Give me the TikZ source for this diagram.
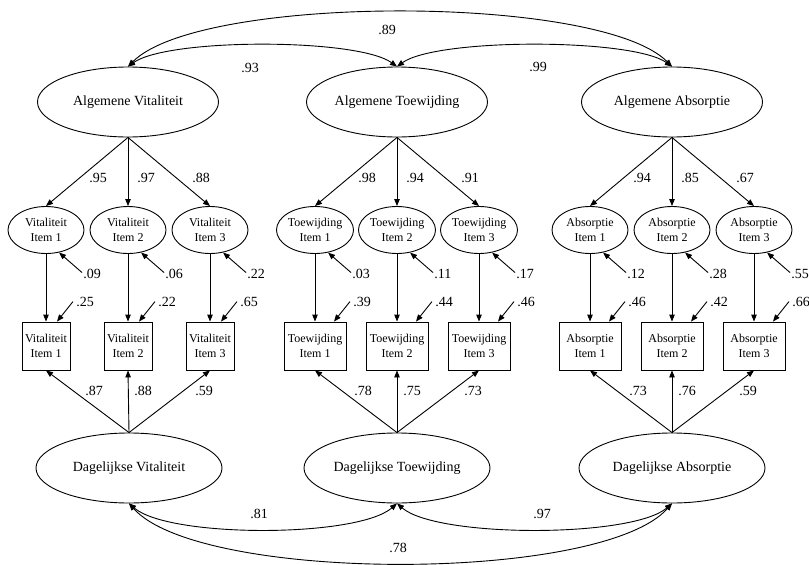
\documentclass[tikz,border=0pt]{standalone}
\usepackage{fontspec}
\setmainfont{Liberation Serif}
\usetikzlibrary{shapes.geometric,arrows.meta,calc}
\begin{document}
\begin{tikzpicture}[x=1pt,y=-1pt,line width=0.9pt,
  >={Triangle[length=7pt,width=5.5pt]},
  lat/.style={ellipse,draw,minimum width=181pt,minimum height=70pt,inner sep=0pt,font=\fontsize{14}{16}\selectfont},
  dlat/.style={lat,minimum width=186pt},
  itm/.style={ellipse,draw,minimum width=76pt,minimum height=47pt,inner sep=0pt,align=center,font=\fontsize{12}{15}\selectfont},
  obs/.style={rectangle,draw,minimum height=48pt,inner sep=0pt,align=center,font=\fontsize{12}{15}\selectfont},
  num/.style={inner sep=0pt,font=\fontsize{14}{16}\selectfont},
  arr/.style={->},
  dbl/.style={<->}]
\useasboundingbox (0,0) rectangle (809,565);
\foreach \g/\word/\cx/\dcx/\bw/\off/\la/\lb/\lc/\ea/\eb/\ec/\ba/\bb/\bc/\da/\db/\dc in {
 V/Vitaliteit/128/129/48/11/.95/.97/.88/.09/.06/.22/.25/.22/.65/.87/.88/.59,
 T/Toewijding/397/397/62/19/.98/.94/.91/.03/.11/.17/.39/.44/.46/.78/.75/.73,
 A/Absorptie/672/672/62/19/.94/.85/.67/.12/.28/.55/.46/.42/.66/.73/.76/.59}
{
  \node[lat] (G\g) at (\cx,102) {Algemene \word};
  \node[dlat] (D\g) at (\dcx,468) {Dagelijkse \word};
  \foreach \i/\dx/\tx/\bx/\vl/\ve/\vb/\vd in {1/-82/-30/-34/\la/\ea/\ba/\da, 2/0/18/15/\lb/\eb/\bb/\db, 3/82/73/76/\lc/\ec/\bc/\dc}
  {
    \node[itm] (I\g\i) at ({\cx+\dx},230) {\word\\Item \i};
    \node[obs,minimum width=\bw pt] (B\g\i) at ({\cx+\dx},346) {\word\\Item \i};
    \draw[arr] (G\g.south) -- (I\g\i.north);
    \draw[arr] (I\g\i.south) -- (B\g\i.north);
    \draw[arr] (D\g.north) -- (B\g\i.south);
    \node[num] (LT\g\i) at ({\cx+\tx},178) {\vl};
    \node[num] (LD\g\i) at ({\cx+\bx},391) {\vd};
    \coordinate (ES\g\i) at ($(I\g\i.-60)+(23,20)$);
    \draw[arr] (ES\g\i) -- (I\g\i.-60);
    \node[num,anchor=west] (LE\g\i) at ($(ES\g\i)+(1,1)$) {\ve};
    \coordinate (BT\g\i) at ($(B\g\i.north)+(\off,0)$);
    \coordinate (BS\g\i) at ($(BT\g\i)+(16,-20)$);
    \draw[arr] (BS\g\i) -- (BT\g\i);
    \node[num,anchor=west] (LR\g\i) at ($(BS\g\i)+(3,0)$) {\vb};
  }
}
% correlations between general factors
\draw[dbl] (GV.north) .. controls (200,-6) and (600,-6) .. (GA.north);
\draw[dbl] (GV.north) .. controls (168,38) and (357,38) .. (GT.north);
\draw[dbl] (GT.north) .. controls (437,38) and (632,38) .. (GA.north);
\node[num] (c89) at (387,30) {.89};
\node[num] (c93) at (250,68) {.93};
\node[num] (c99) at (538,67) {.99};
% correlations between daily factors
\draw[dbl] (DV.south) .. controls (169,538) and (357,538) .. (DT.south);
\draw[dbl] (DT.south) .. controls (437,538) and (632,538) .. (DA.south);
\draw[dbl] (DV.south) .. controls (200,583) and (601,583) .. (DA.south);
\node[num] (c81) at (259,514) {.81};
\node[num] (c97) at (542,514) {.97};
\node[num] (c78) at (398,548) {.78};
\end{tikzpicture}
\end{document}
